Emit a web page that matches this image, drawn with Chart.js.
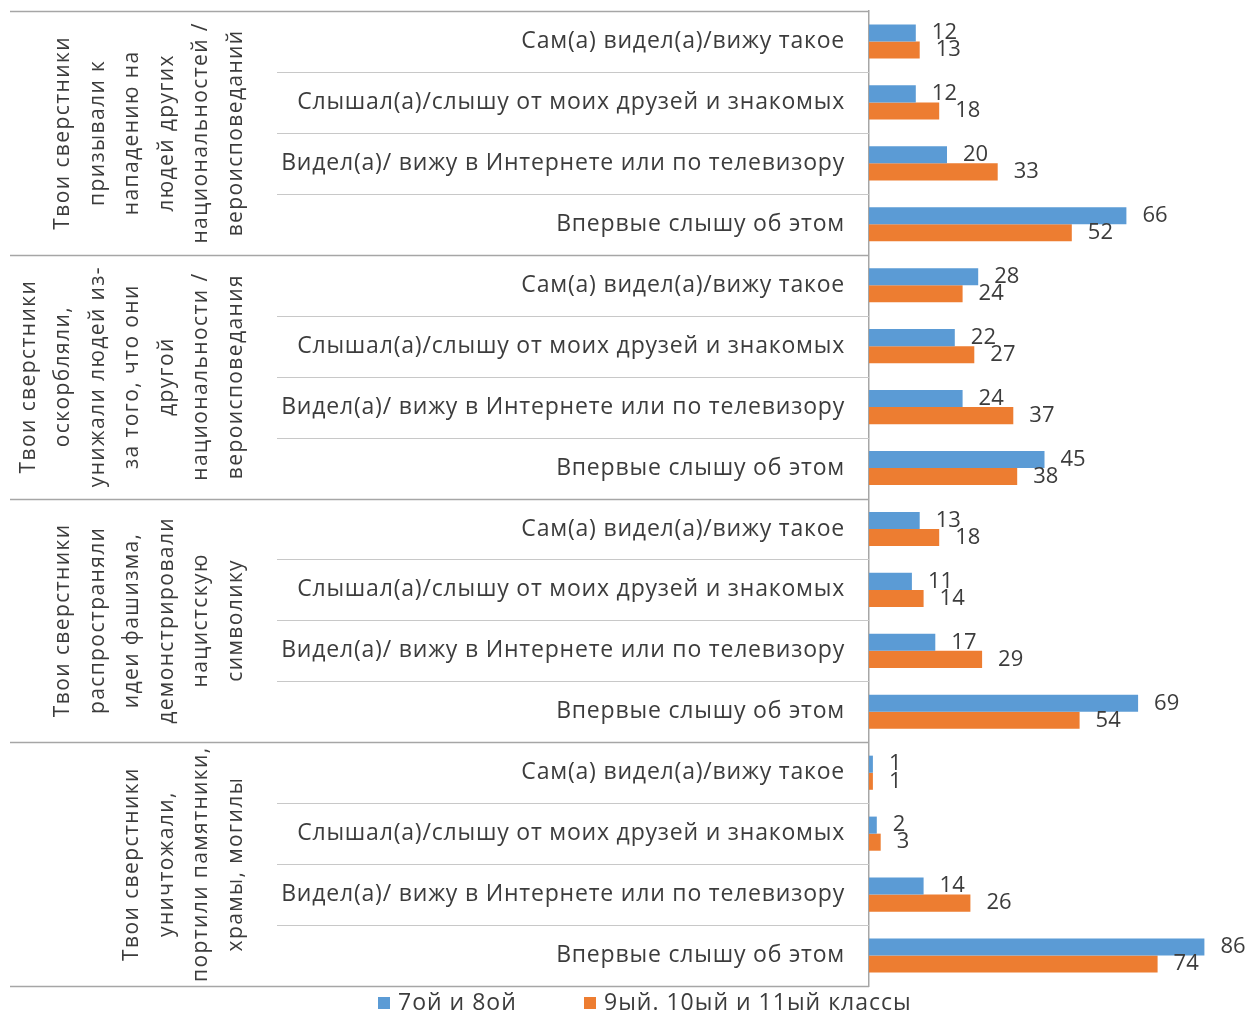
<!DOCTYPE html>
<html>
<head>
<meta charset="utf-8">
<script src="https://cdn.jsdelivr.net/npm/chart.js@4/dist/chart.umd.min.js"></script>
<style>
    html, body { margin: 0; padding: 0; background: #fff; }
    #wrap { width: 1250px; height: 1013px; }
</style>
</head>
<body>
<div id="wrap"><canvas id="surveyChart" width="1250" height="1013"></canvas></div>
<script>
const answers = [
    'Сам(а) видел(а)/вижу такое',
    'Слышал(а)/слышу от моих друзей и знакомых',
    'Видел(а)/ вижу в Интернете или по телевизору',
    'Впервые слышу об этом'
];

const groups = [
    ['Твои сверстники', 'призывали к', 'нападению на', 'людей других', 'национальностей /', 'вероисповеданий'],
    ['Твои сверстники', 'оскорбляли,', 'унижали людей из-', 'за того, что они', 'другой', 'национальности /', 'вероисповедания'],
    ['Твои сверстники', 'распространяли', 'идеи фашизма,', 'демонстрировали', 'нацистскую', 'символику'],
    ['Твои сверстники', 'уничтожали,', 'портили памятники,', 'храмы, могилы']
];

const seriesNames = ['7ой и 8ой', '9ый. 10ый и 11ый классы'];
const grades78 = [12, 12, 20, 66, 28, 22, 24, 45, 13, 11, 17, 69, 1, 2, 14, 86];
const grades911 = [13, 18, 33, 52, 24, 27, 37, 38, 18, 14, 29, 54, 1, 3, 26, 74];

const categories = [];
groups.forEach(() => answers.forEach(a => categories.push(a)));

const BLUE = '#5B9BD5';
const ORANGE = '#ED7D31';
const TEXT = '#3C3C3C';
const FONT = '"Open Sans", "Noto Sans", sans-serif';

// draws the table on the left, the value labels and the legend
const tablePlugin = {
    id: 'tablePlugin',
    afterDatasetsDraw(chart) {
        const ctx = chart.ctx;
        const area = chart.chartArea;
        const yScale = chart.scales.y;
        const step = (area.bottom - area.top) / categories.length;

        ctx.save();

        // separators
        for (let i = 0; i <= categories.length; i++) {
            const y = Math.round(area.top + i * step) + 0.5;
            ctx.beginPath();
            if (i % 4 === 0) {
                ctx.strokeStyle = '#A6A6A6';
                ctx.lineWidth = 1.5;
                ctx.moveTo(10, y);
            } else {
                ctx.strokeStyle = '#C8C8C8';
                ctx.lineWidth = 1;
                ctx.moveTo(277, y);
            }
            ctx.lineTo(area.left, y);
            ctx.stroke();
        }

        // answer labels
        ctx.fillStyle = TEXT;
        ctx.font = '23px ' + FONT;
        ctx.letterSpacing = '0.8px';
        ctx.textAlign = 'right';
        ctx.textBaseline = 'middle';
        categories.forEach((label, i) => {
            ctx.fillText(label, area.left - 24, yScale.getPixelForValue(i));
        });

        // group labels, rotated
        ctx.font = '21px ' + FONT;
        ctx.letterSpacing = '1.4px';
        ctx.textAlign = 'center';
        groups.forEach((lines, g) => {
            const cy = area.top + (g * 4 + 2) * step;
            lines.forEach((line, k) => {
                const x = 236 - (lines.length - 1 - k) * 34.5;
                ctx.save();
                ctx.translate(x, cy);
                ctx.rotate(-Math.PI / 2);
                ctx.fillText(line, 0, 0);
                ctx.restore();
            });
        });

        // value labels
        ctx.font = '22px ' + FONT;
        ctx.letterSpacing = '0px';
        ctx.textAlign = 'left';
        chart.data.datasets.forEach((ds, d) => {
            chart.getDatasetMeta(d).data.forEach((bar, i) => {
                ctx.fillText(ds.data[i], bar.x + 16, bar.y);
            });
        });

        // legend
        ctx.font = '23px ' + FONT;
        ctx.letterSpacing = '1px';
        const legendY = 1003;
        const items = [[378, BLUE, seriesNames[0]], [584, ORANGE, seriesNames[1]]];
        items.forEach(([x, color, name]) => {
            ctx.fillStyle = color;
            ctx.fillRect(x, legendY - 6, 12, 12);
            ctx.fillStyle = TEXT;
            ctx.fillText(name, x + 20, legendY);
        });

        ctx.restore();
    }
};

const ctx = document.getElementById('surveyChart').getContext('2d');
const surveyChart = new Chart(ctx, {
    type: 'bar',
    data: {
        labels: categories,
        datasets: [
            { label: seriesNames[0], data: grades78, backgroundColor: BLUE },
            { label: seriesNames[1], data: grades911, backgroundColor: ORANGE }
        ]
    },
    options: {
        indexAxis: 'y',
        responsive: false,
        animation: false,
        layout: { padding: { top: 11, bottom: 27, left: 10, right: 30 } },
        datasets: {
            bar: { barPercentage: 1, categoryPercentage: 0.56 }
        },
        scales: {
            x: { display: false, min: 0, max: 90 },
            y: {
                ticks: { display: false },
                grid: { display: false },
                border: { display: true, color: '#A6A6A6', width: 1.5 },
                afterFit: (scale) => { scale.width = 859; }
            }
        },
        plugins: {
            legend: { display: false },
            tooltip: { enabled: false }
        }
    },
    plugins: [tablePlugin]
});
</script>
</body>
</html>
